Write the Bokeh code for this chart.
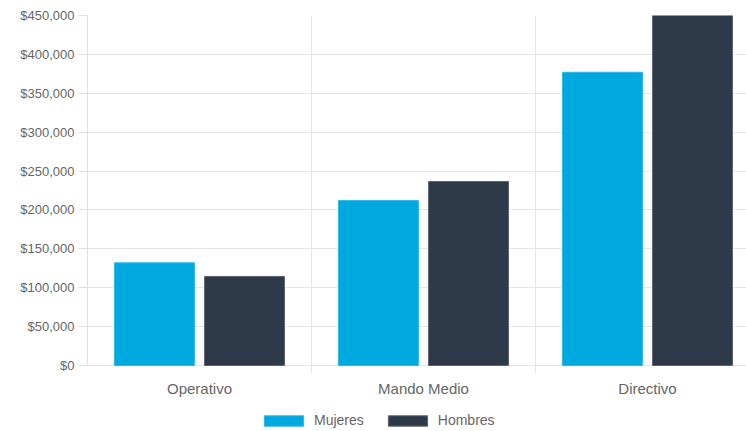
from bokeh.plotting import figure
from bokeh.models import ColumnDataSource, FixedTicker, Range1d, Legend, LegendItem, NumeralTickFormatter
from bokeh.core.properties import value
from bokeh.embed import file_html
from bokeh.resources import INLINE

categories = ["Operativo", "Mando Medio", "Directivo"]
mujeres = [132000, 212000, 377000]
hombres = [114500, 236500, 450000]
y_ticks = [0, 50000, 100000, 150000, 200000, 250000, 300000, 350000, 400000, 450000]

y_max = 450000
# frame spans 416 px; the value axis occupies the top 350 px of it
y_min = -y_max * 66 / 350

centers = [i + 0.5 for i in range(len(categories))]
src_m = ColumnDataSource(dict(x=[c - 0.201 for c in centers], top=mujeres))
src_h = ColumnDataSource(dict(x=[c + 0.201 for c in centers], top=hombres))
src_lab = ColumnDataSource(dict(x=centers, y=[0] * len(centers), text=categories))

p = figure(frame_width=659, frame_height=416, output_backend="svg", toolbar_location=None,
           x_range=Range1d(0, 2.942), y_range=Range1d(y_min, y_max),
           min_border_left=87, min_border_right=0, min_border_top=15, min_border_bottom=0)
p.outline_line_color = None
p.background_fill_color = "white"
p.border_fill_color = "white"

rm = p.vbar(x="x", top="top", bottom=0, width=0.357, source=src_m,
            fill_color="#00A8E0", line_color="#2CB8E6", line_width=1)
rh = p.vbar(x="x", top="top", bottom=0, width=0.357, source=src_h,
            fill_color="#2E3A49", line_color="#5A6472", line_width=1)

font = "Liberation Sans"
# category labels below the zero line
p.text(x="x", y="y", text="text", source=src_lab, y_offset=23,
       text_align="center", text_baseline="middle",
       text_font=value(font), text_font_size="15px", text_color="#666666")

p.xaxis.visible = False
xg = p.xgrid[0]
xg.ticker = FixedTicker(ticks=[0, 1, 2, 3])
xg.grid_line_color = "#e6e6e6"
if "cross_bounds" in xg.properties():
    xg.cross_bounds = (-y_max * 8 / 350, y_max)

# y axis
p.yaxis.ticker = FixedTicker(ticks=y_ticks)
p.yaxis.bounds = (0, y_max)
p.yaxis.formatter = NumeralTickFormatter(format="$0,0")
p.yaxis.major_tick_line_color = "#e0e0e0"
p.yaxis.major_tick_out = 9
p.yaxis.major_tick_in = 0
p.yaxis.minor_tick_line_color = None
p.yaxis.axis_line_color = "#e0e0e0"
p.yaxis.major_label_text_font = font
p.yaxis.major_label_text_font_size = "13px"
p.yaxis.major_label_text_color = "#666666"
p.yaxis.major_label_standoff = 4
p.ygrid.grid_line_color = "#e6e6e6"

legend = Legend(items=[LegendItem(label="Mujeres", renderers=[rm]),
                       LegendItem(label="Hombres", renderers=[rh])],
                orientation="horizontal", location=(172, 3),
                glyph_width=49, glyph_height=13, label_text_font=font,
                label_text_font_size="14px", label_text_color="#666666",
                border_line_color=None, background_fill_alpha=0,
                spacing=19, label_standoff=6, padding=0, margin=0)
p.add_layout(legend, "center")

open("out.html", "w").write(file_html(p, INLINE))
